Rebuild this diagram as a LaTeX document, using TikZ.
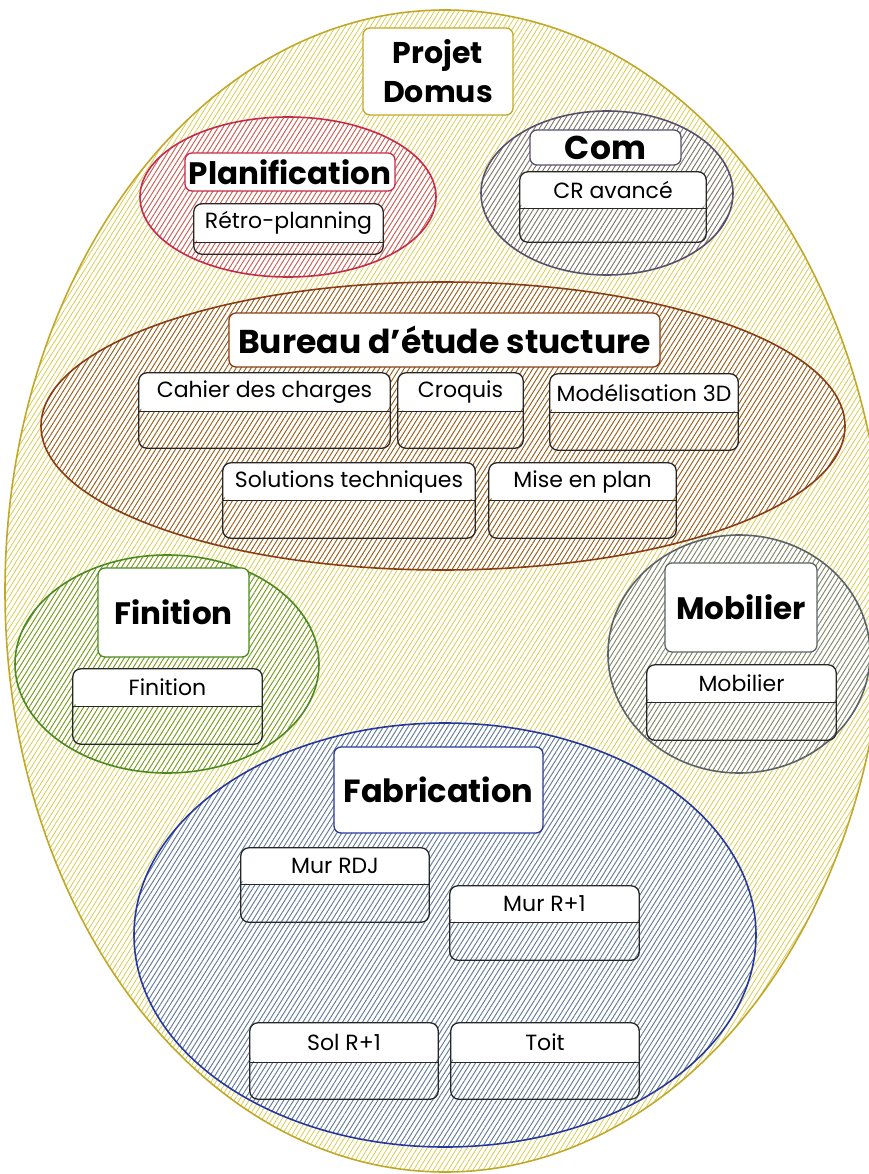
\documentclass[tikz,border=0pt]{standalone}
\usepackage{fontspec}
\setmainfont{Poppins}
\usetikzlibrary{patterns.meta, positioning}

\definecolor{domus}{HTML}{C2A82A}
\definecolor{domushatch}{HTML}{D9CD52}
\definecolor{planif}{HTML}{C52A48}
\definecolor{planifhatch}{HTML}{D2546C}
\definecolor{com}{HTML}{57506A}
\definecolor{comhatch}{HTML}{77728A}
\definecolor{bureau}{HTML}{8A3C14}
\definecolor{bureauhatch}{HTML}{965830}
\definecolor{finition}{HTML}{4A8A1E}
\definecolor{finitionhatch}{HTML}{6E9C2C}
\definecolor{mobilier}{HTML}{5A6468}
\definecolor{mobilierhatch}{HTML}{7A8488}
\definecolor{fabrication}{HTML}{2638A0}
\definecolor{fabricationhatch}{HTML}{5878BC}

\begin{document}
\begin{tikzpicture}[x=1pt, y=-1pt,
    zone/.style 2 args={draw=#1, line width=1.6pt, pattern color=#2,
      pattern={Lines[angle=58, distance=4.2pt, line width=0.8pt]}},
    titlebox/.style={draw=#1, fill=white, rounded corners=7pt, line width=1.3pt,
      inner sep=2pt, font=\bfseries\fontsize{31}{34}\selectfont},
    cellhead/.style={fill=white, rounded corners=7pt, inner sep=0pt,
      font=\fontsize{22}{24}\selectfont},
    cellbox/.style={draw=black!85, line width=1.3pt, rounded corners=8pt},
    cellrule/.style={draw=black!85, line width=1.3pt}]

  % Page
  \fill[white] (0,0) rectangle (869,1174);
  \useasboundingbox (0,0) rectangle (869,1174);

  % Zones
  \draw[zone={domus}{domushatch}] (445,591) ellipse [x radius=440pt, y radius=581pt];
  \draw[zone={planif}{planifhatch}] (288,197) ellipse [x radius=148pt, y radius=80pt];
  \draw[zone={com}{comhatch}] (607,193) ellipse [x radius=126pt, y radius=82pt];
  \draw[zone={bureau}{bureauhatch}] (443,426) ellipse [x radius=402pt, y radius=144pt];
  \draw[zone={finition}{finitionhatch}] (167,664) ellipse [x radius=152pt, y radius=109pt];
  \draw[zone={mobilier}{mobilierhatch}] (739,654) ellipse [x radius=131pt, y radius=119pt];
  \draw[zone={fabrication}{fabricationhatch}] (445,935) ellipse [x radius=311pt, y radius=212pt];

  % Titles
  \node[titlebox=domus, minimum width=150pt, minimum height=87pt, align=center, font=\bfseries\fontsize{30}{33}\selectfont] (projet) at (438,71.5) {Projet\\[6pt]Domus};
  \node[titlebox=planif, minimum width=210pt, minimum height=38pt] (planification) at (290,172) {Planification};
  \node[titlebox=com, minimum width=151pt, minimum height=35pt, font=\bfseries\fontsize{33}{35}\selectfont] (comtitle) at (605.5,147.5) {Com};
  \node[titlebox=bureau, minimum width=431pt, minimum height=54pt, font=\bfseries\fontsize{33}{36}\selectfont] (bureautitle) at (444.5,340) {Bureau d’étude stucture};
  \node[titlebox=finition, minimum width=151pt, minimum height=89pt] (finitiontitle) at (173.5,612.5) {Finition};
  \node[titlebox=mobilier, minimum width=152pt, minimum height=89pt] (mobiliertitle) at (741,607.5) {Mobilier};
  \node[titlebox=fabrication, minimum width=209pt, minimum height=86pt, font=\bfseries\fontsize{32}{35}\selectfont] (fabricationtitle) at (438.5,790) {Fabrication};

  % Planification
  \node[cellhead, minimum width=189pt, minimum height=38pt] (retro) at (288.5,223) {Rétro-planning};
  \draw[cellbox] (retro.north west) rectangle ([yshift=-12pt]retro.south east);
  \draw[cellrule] (retro.south west) -- (retro.south east);

  % Com
  \node[cellhead, minimum width=186pt, minimum height=36pt] (cr) at (613,190) {CR avancé};
  \draw[cellbox] (cr.north west) rectangle ([yshift=-34pt]cr.south east);
  \draw[cellrule] (cr.south west) -- (cr.south east);

  % Bureau d'etude
  \node[cellhead, minimum width=251pt, minimum height=38pt] (cahier) at (264.5,392) {Cahier des charges};
  \draw[cellbox] (cahier.north west) rectangle ([yshift=-37pt]cahier.south east);
  \draw[cellrule] (cahier.south west) -- (cahier.south east);

  \node[cellhead, minimum width=125pt, minimum height=38pt] (croquis) at (460.5,392) {Croquis};
  \draw[cellbox] (croquis.north west) rectangle ([yshift=-37pt]croquis.south east);
  \draw[cellrule] (croquis.south west) -- (croquis.south east);

  \node[cellhead, minimum width=188pt, minimum height=38pt] (modele) at (644,393) {Modélisation 3D};
  \draw[cellbox] (modele.north west) rectangle ([yshift=-38pt]modele.south east);
  \draw[cellrule] (modele.south west) -- (modele.south east);

  \node[cellhead, minimum width=252pt, minimum height=37pt] (solutions) at (349,481.5) {Solutions techniques};
  \draw[cellbox] (solutions.north west) rectangle ([yshift=-38pt]solutions.south east);
  \draw[cellrule] (solutions.south west) -- (solutions.south east);

  \node[cellhead, minimum width=187pt, minimum height=37pt] (miseplan) at (582.5,481.5) {Mise en plan};
  \draw[cellbox] (miseplan.north west) rectangle ([yshift=-38pt]miseplan.south east);
  \draw[cellrule] (miseplan.south west) -- (miseplan.south east);

  % Finition
  \node[cellhead, minimum width=189pt, minimum height=37pt] (finitioncell) at (167.5,687.5) {Finition};
  \draw[cellbox] (finitioncell.north west) rectangle ([yshift=-38pt]finitioncell.south east);
  \draw[cellrule] (finitioncell.south west) -- (finitioncell.south east);

  % Mobilier
  \node[cellhead, minimum width=189pt, minimum height=37pt] (mobiliercell) at (741.5,683.5) {Mobilier};
  \draw[cellbox] (mobiliercell.north west) rectangle ([yshift=-38pt]mobiliercell.south east);
  \draw[cellrule] (mobiliercell.south west) -- (mobiliercell.south east);

  % Fabrication
  \node[cellhead, minimum width=188pt, minimum height=36pt] (murrdj) at (335,866) {Mur RDJ};
  \draw[cellbox] (murrdj.north west) rectangle ([yshift=-38pt]murrdj.south east);
  \draw[cellrule] (murrdj.south west) -- (murrdj.south east);

  \node[cellhead, minimum width=189pt, minimum height=36pt] (murr1) at (544.5,904) {Mur R+1};
  \draw[cellbox] (murr1.north west) rectangle ([yshift=-38pt]murr1.south east);
  \draw[cellrule] (murr1.south west) -- (murr1.south east);

  \node[cellhead, minimum width=188pt, minimum height=39pt] (solr1) at (344,1042.5) {Sol R+1};
  \draw[cellbox] (solr1.north west) rectangle ([yshift=-37pt]solr1.south east);
  \draw[cellrule] (solr1.south west) -- (solr1.south east);

  \node[cellhead, minimum width=188pt, minimum height=39pt] (toit) at (545,1042.5) {Toit};
  \draw[cellbox] (toit.north west) rectangle ([yshift=-37pt]toit.south east);
  \draw[cellrule] (toit.south west) -- (toit.south east);
\end{tikzpicture}
\end{document}
